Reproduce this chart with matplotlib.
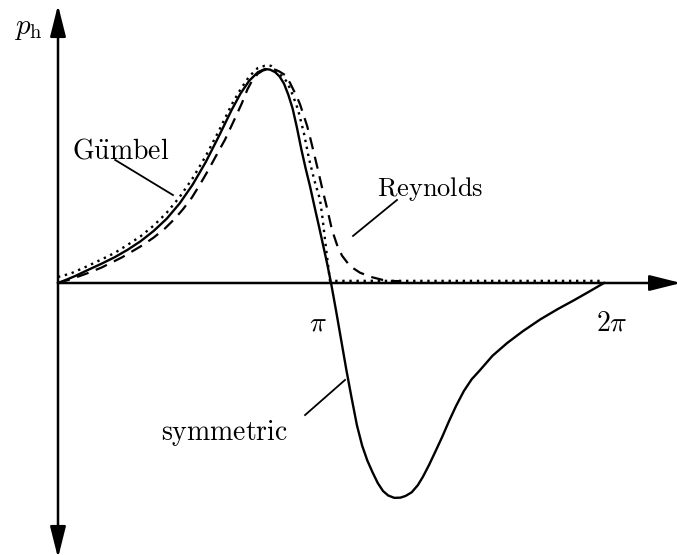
import numpy as np
import matplotlib.pyplot as plt

plt.rcParams['mathtext.fontset'] = 'cm'

# Angle theta (rad) and dimensionless hydrodynamic pressure p_h
theta_sym = [0.0, 0.1, 0.2, 0.345, 0.5, 0.65, 0.8, 0.95, 1.1, 1.25,
             1.4, 1.55, 1.7, 1.85, 2.0, 2.1, 2.2, 2.3, 2.382, 2.44,
             2.5, 2.55, 2.6, 2.65, 2.7, 2.75, 2.8, 2.85, 2.9, 2.95,
             3.0, 3.05, 3.1, 3.142, 3.2, 3.26, 3.32, 3.38, 3.44, 3.5,
             3.56, 3.62, 3.68, 3.74, 3.8, 3.87, 3.94, 4.0, 4.07, 4.14,
             4.2, 4.27, 4.34, 4.42, 4.5, 4.58, 4.67, 4.76, 4.85, 5.0,
             5.17, 5.35, 5.55, 5.75, 5.94, 6.1, 6.283]
p_sym = [0.0, 0.016, 0.033, 0.061, 0.09, 0.12, 0.155, 0.195, 0.243, 0.30,
         0.372, 0.46, 0.565, 0.685, 0.81, 0.885, 0.945, 0.985, 1.0, 0.997,
         0.985, 0.965, 0.932, 0.88, 0.815, 0.725, 0.625, 0.535, 0.452, 0.36,
         0.27, 0.178, 0.085, 0.0, -0.13, -0.27, -0.41, -0.54, -0.665, -0.76,
         -0.83, -0.885, -0.935, -0.972, -0.993, -1.004, -1.003, -0.995, -0.978, -0.945,
         -0.905, -0.85, -0.79, -0.72, -0.645, -0.575, -0.505, -0.45, -0.41, -0.34,
         -0.28, -0.225, -0.17, -0.122, -0.08, -0.043, 0.0]

theta_guembel = [0.0, 0.15, 0.345, 0.5, 0.65, 0.8, 0.95, 1.1, 1.25, 1.4,
                 1.55, 1.7, 1.85, 2.0, 2.1, 2.2, 2.3, 2.38, 2.45, 2.52,
                 2.58, 2.635, 2.7, 2.762, 2.83, 2.889, 2.95, 3.015, 3.045, 3.073,
                 3.1, 3.13, 4.0, 5.0, 6.272]
p_guembel = [0.028, 0.045, 0.08, 0.11, 0.14, 0.178, 0.218, 0.268, 0.328, 0.402,
             0.49, 0.593, 0.71, 0.835, 0.905, 0.965, 1.005, 1.015, 1.015, 0.99,
             0.965, 0.94, 0.88, 0.81, 0.70, 0.58, 0.48, 0.39, 0.30, 0.20,
             0.11, 0.01, 0.01, 0.01, 0.01]

theta_reynolds = [0.0, 0.15, 0.334, 0.5, 0.737, 0.967, 1.1, 1.231, 1.35, 1.439,
                  1.542, 1.63, 1.726, 1.82, 1.922, 2.02, 2.117, 2.18, 2.233, 2.3,
                  2.359, 2.42, 2.474, 2.54, 2.612, 2.670, 2.750, 2.785, 2.866, 2.900,
                  2.958, 2.992, 3.050, 3.096, 3.153, 3.211, 3.268, 3.360, 3.476, 3.614,
                  3.740, 3.855, 3.936]
p_reynolds = [0.0, 0.018, 0.045, 0.072, 0.12, 0.175, 0.212, 0.255, 0.303, 0.345,
              0.40, 0.458, 0.525, 0.595, 0.67, 0.755, 0.841, 0.905, 0.945, 0.978,
              0.993, 1.0, 1.0, 0.99, 0.972, 0.935, 0.869, 0.835, 0.735, 0.682,
              0.585, 0.528, 0.425, 0.35, 0.248, 0.178, 0.128, 0.079, 0.048, 0.027,
              0.014, 0.009, 0.009]

tick_pos = [np.pi, 2 * np.pi]
tick_text = [r'$\pi$', r'$2\pi$']

fig = plt.figure(figsize=(6.77, 5.55), dpi=100)
ax = fig.add_axes([0, 0, 1, 1])
ax.set_xlim(-0.6674, 7.123)
ax.set_ylim(-1.271, 1.3224)
ax.axis('off')

# axes drawn as arrows
arrow_kw = dict(lw=1.8, color='black', shrinkA=0, shrinkB=0)
ax.annotate('', xy=(7.17, 0), xytext=(0, 0), annotation_clip=False,
            arrowprops=dict(arrowstyle='-|>,head_length=0.8,head_width=0.2',
                            mutation_scale=24, **arrow_kw))
ax.annotate('', xy=(0, 1.299), xytext=(0, -1.285), annotation_clip=False,
            arrowprops=dict(arrowstyle='<|-|>,head_length=0.8,head_width=0.2',
                            mutation_scale=24, **arrow_kw))

ax.plot(theta_sym, p_sym, color='black', lw=1.7, solid_joinstyle='round')
ax.plot(theta_guembel, p_guembel, color='black', lw=1.7, linestyle=(0, (1, 2)))
ax.plot(theta_reynolds, p_reynolds, color='black', lw=1.6, linestyle=(0, (5.5, 3.5)))

# tick labels below the axis
ax.text(tick_pos[0] - 0.15, -0.12, tick_text[0], fontsize=20, ha='center', va='top')
ax.text(tick_pos[1] + 0.09, -0.12, tick_text[1], fontsize=20, ha='center', va='top')
ax.text(-0.34, 1.19, r'$p_\mathrm{h}$', fontsize=21, ha='center', va='center')

# curve labels with leader lines
ax.text(0.72, 0.62, r'$\mathrm{G\ddot{u}mbel}$', fontsize=20, ha='center', va='center')
ax.plot([0.658, 1.323], [0.575, 0.411], color='black', lw=1.3)
ax.text(4.28, 0.44, r'$\mathrm{Reynolds}$', fontsize=19, ha='center', va='center')
ax.plot([3.395, 3.901], [0.22, 0.388], color='black', lw=1.3)
ax.text(1.91, -0.70, r'$\mathrm{symmetric}$', fontsize=20, ha='center', va='center')
ax.plot([2.843, 3.303], [-0.617, -0.453], color='black', lw=1.3)

fig.savefig('out.png', dpi=100)
